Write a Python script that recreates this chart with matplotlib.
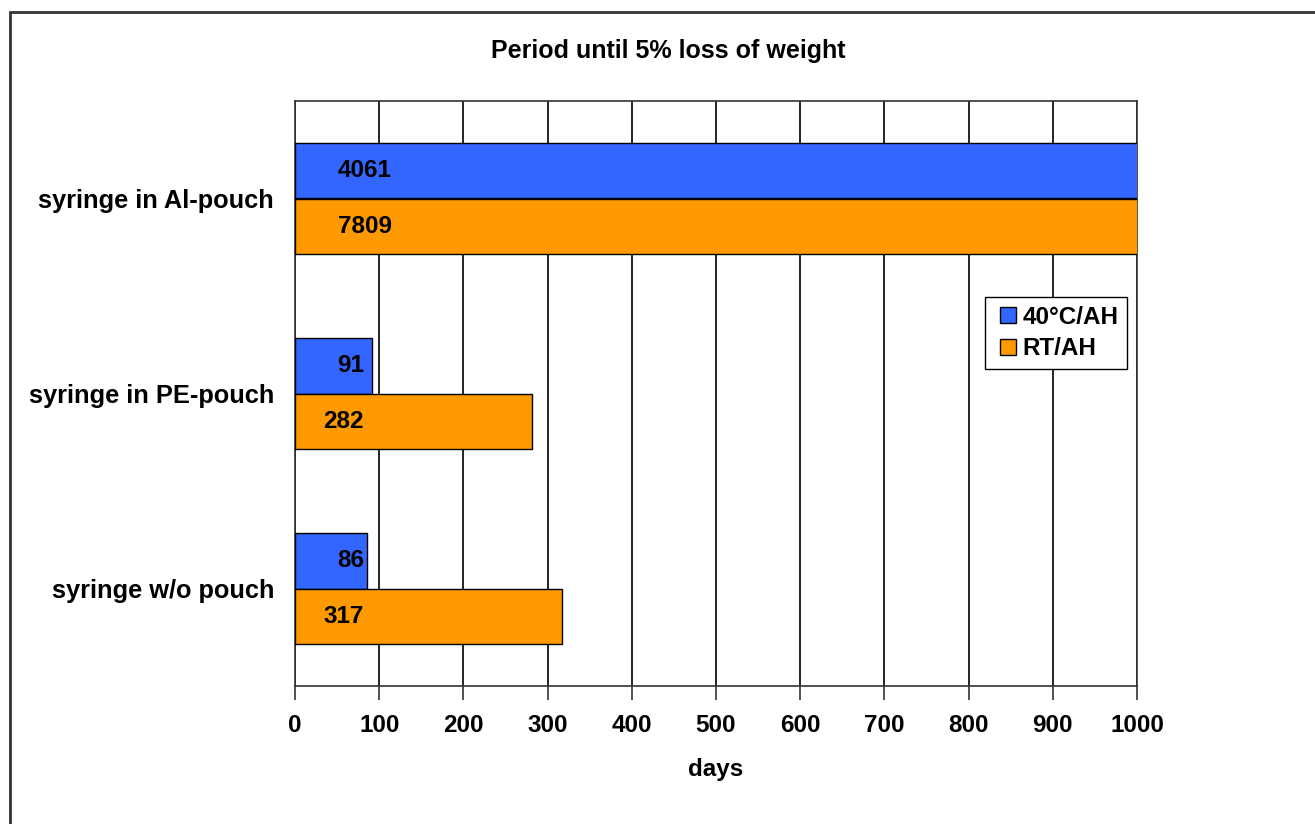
import numpy as np
import matplotlib.pyplot as plt
from matplotlib.patches import Rectangle
from matplotlib.lines import Line2D

plt.rcParams['font.family'] = ['Liberation Sans', 'DejaVu Sans']
plt.rcParams['font.weight'] = 'bold'

categories = ['syringe in Al-pouch', 'syringe in PE-pouch', 'syringe w/o pouch']
series_names = ['40°C/AH', 'RT/AH']
hot_vals = [4061, 91, 86]
rt_vals = [7809, 282, 317]
colors = ['#3366FF', '#FF9900']
xticks = np.arange(0, 1001, 100)

fig = plt.figure(figsize=(13.15, 8.24), dpi=100)
fig.patches.append(Rectangle((10 / 1315, -0.1), 1.2, 1 - 12 / 824 + 0.1,
                             transform=fig.transFigure, fill=False,
                             edgecolor='#333333', linewidth=2, zorder=0))
ax = fig.add_axes([295 / 1315, 1 - 686 / 824, 842 / 1315, 585 / 824])

y = np.arange(len(categories))
h = 0.287
ax.barh(y - h / 2, hot_vals, height=h, color=colors[0], edgecolor='black',
        linewidth=1, zorder=3)
ax.barh(y + h / 2, rt_vals, height=h, color=colors[1], edgecolor='black',
        linewidth=1, zorder=3)

ax.set_xlim(0, 1000)
ax.set_ylim(len(categories) - 0.5, -0.5)
ax.set_xticks(xticks)
ax.set_xticklabels([str(t) for t in xticks], fontsize=17.5, fontweight='bold')
ax.set_yticks(y)
ax.set_yticklabels(categories, fontsize=18.3, fontweight='bold')
ax.tick_params(axis='y', length=0, pad=15)
ax.tick_params(axis='x', length=10, width=1.2, pad=10, color='#333333')
ax.grid(axis='x', color='black', linewidth=1.2, zorder=0)
ax.set_axisbelow(True)
for s in ax.spines.values():
    s.set_linewidth(1.2)
    s.set_color('#333333')

# data labels (Excel puts them near the base)
for i in range(len(categories)):
    for val, off in ((hot_vals[i], -h / 2), (rt_vals[i], h / 2)):
        txt = str(val)
        if len(txt) == 2:
            xpos = 66
        elif len(txt) == 3:
            xpos = 58
        else:
            xpos = 83
        ax.text(xpos, i + off, txt, ha='center', va='center', fontsize=17.5,
                fontweight='bold', zorder=4)

ax.set_xlabel('days', fontsize=17.5, fontweight='bold', labelpad=15)
fig.text(668 / 1315, 1 - 51 / 824, 'Period until 5% loss of weight',
         ha='center', va='center', fontsize=18, fontweight='bold')

handles = [Line2D([], [], marker='s', linestyle='none', markersize=12,
                  markerfacecolor=c, markeredgecolor='black') for c in colors]
leg = ax.legend(handles, series_names, loc='upper left',
                bbox_to_anchor=(690 / 842, 1 - 196 / 585), borderaxespad=0,
                fancybox=False, framealpha=1, edgecolor='black',
                handletextpad=0.0, borderpad=0.35, labelspacing=0.35,
                handlelength=1.2, prop={'size': 17.5, 'weight': 'bold'})
leg.get_frame().set_linewidth(1)

fig.savefig('out.png', dpi=100)
